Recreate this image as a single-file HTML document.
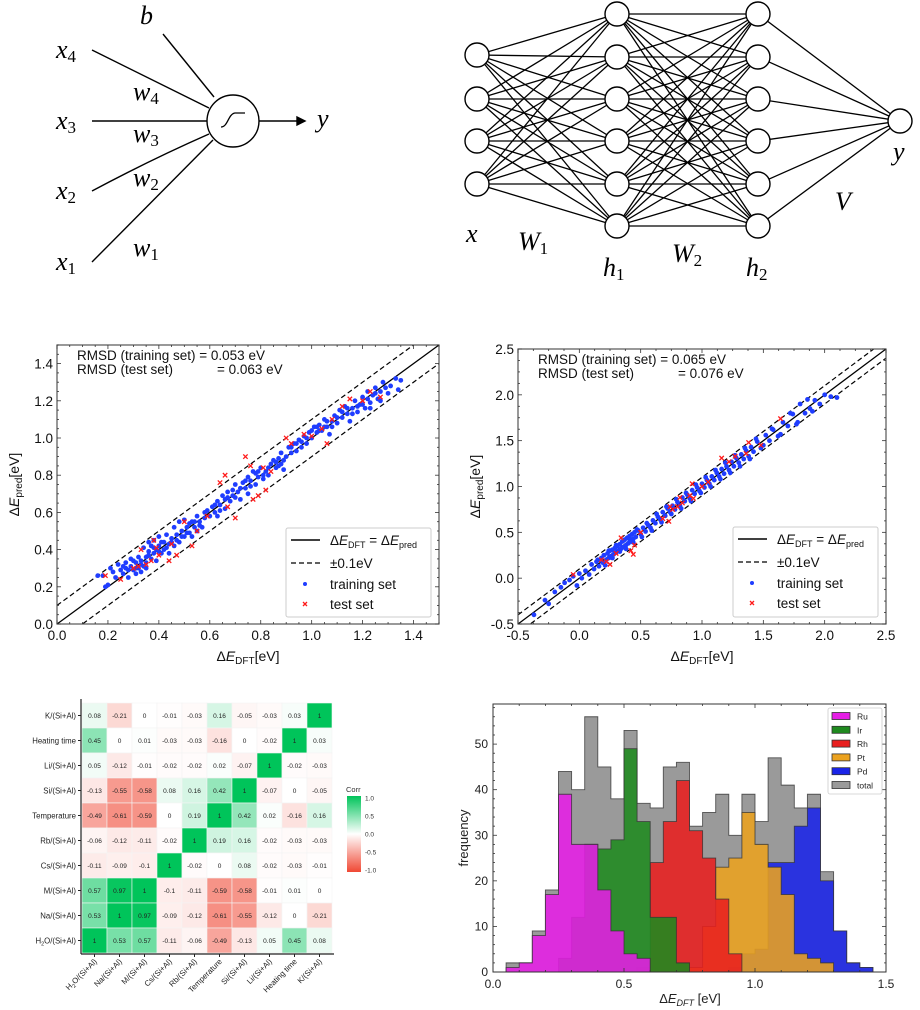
<!DOCTYPE html>
<html><head><meta charset="utf-8"><style>
html,body{margin:0;padding:0;background:#fff;width:920px;height:1010px;overflow:hidden}
svg{display:block}
text{font-family:"Liberation Sans",sans-serif}
.serif text{font-family:"Liberation Serif",serif;font-style:italic}
</style></head><body>
<svg id="fig" width="920" height="1010" viewBox="0 0 920 1010" xmlns="http://www.w3.org/2000/svg">
  <g stroke="#000" stroke-width="1.4" fill="none">
    <line x1="163" y1="34" x2="214" y2="97"/>
    <line x1="92" y1="50" x2="209" y2="108"/>
    <line x1="92" y1="121" x2="207" y2="121"/>
    <path d="M92 191 Q150 160 209 134"/>
    <line x1="92" y1="262" x2="213" y2="140"/>
    <circle cx="233" cy="121" r="26" fill="#fff"/>
    <path d="M221 127 C228 127 228 114 235 113 L245 113" stroke-width="1.3"/>
    <line x1="259" y1="121" x2="298" y2="121"/>
    <path d="M297 117 L305 121 L297 125 Z" fill="#000"/>
  </g>
  <g class="serif" font-size="26" fill="#000">
    <text x="140" y="24" font-size="26">b</text>
    <text x="56" y="58">x<tspan font-size="17" dy="4" font-style="normal">4</tspan></text>
    <text x="56" y="129">x<tspan font-size="17" dy="4" font-style="normal">3</tspan></text>
    <text x="56" y="199">x<tspan font-size="17" dy="4" font-style="normal">2</tspan></text>
    <text x="56" y="270">x<tspan font-size="17" dy="4" font-style="normal">1</tspan></text>
    <text x="133" y="100">w<tspan font-size="17" dy="4" font-style="normal">4</tspan></text>
    <text x="133" y="142">w<tspan font-size="17" dy="4" font-style="normal">3</tspan></text>
    <text x="133" y="186">w<tspan font-size="17" dy="4" font-style="normal">2</tspan></text>
    <text x="133" y="256">w<tspan font-size="17" dy="4" font-style="normal">1</tspan></text>
    <text x="317" y="127">y</text>
  </g>
  <g id="net"></g>
  <g class="serif" font-size="26" fill="#000">
    <text x="466" y="242">x</text>
    <text x="518" y="250">W<tspan font-size="17" dy="4" font-style="normal">1</tspan></text>
    <text x="603" y="276">h<tspan font-size="17" dy="4" font-style="normal">1</tspan></text>
    <text x="672" y="262">W<tspan font-size="17" dy="4" font-style="normal">2</tspan></text>
    <text x="746" y="276">h<tspan font-size="17" dy="4" font-style="normal">2</tspan></text>
    <text x="835" y="210">V</text>
    <text x="893" y="160">y</text>
  </g>
  <g id="sc1"></g>
  <g id="sc2"></g>
  <g id="heat"></g>
  <g id="hist"></g>
</svg>
<script>
// ---------- Scatter data ----------
const sc1Train = [[0.16,0.26],[0.18,0.26],[0.19,0.20],[0.2,0.21],[0.21,0.30],[0.22,0.28],[0.23,0.25],[0.24,0.32],[0.25,0.29],[0.26,0.27],[0.27,0.33],[0.27,0.30],[0.28,0.25],[0.29,0.31],[0.29,0.35],[0.30,0.29],[0.31,0.27],[0.31,0.33],[0.32,0.30],[0.32,0.36],[0.33,0.28],[0.33,0.34],[0.34,0.31],[0.34,0.41],[0.35,0.36],[0.35,0.30],[0.36,0.44],[0.36,0.39],[0.37,0.35],[0.37,0.42],[0.38,0.38],[0.38,0.45],[0.39,0.40],[0.39,0.34],[0.40,0.47],[0.40,0.42],[0.41,0.38],[0.42,0.44],[0.42,0.40],[0.43,0.48],[0.44,0.43],[0.44,0.38],[0.45,0.46],[0.46,0.52],[0.46,0.42],[0.47,0.48],[0.48,0.44],[0.48,0.55],[0.49,0.50],[0.50,0.47],[0.50,0.56],[0.51,0.52],[0.52,0.49],[0.53,0.55],[0.53,0.47],[0.54,0.52],[0.55,0.58],[0.55,0.50],[0.56,0.55],[0.57,0.52],[0.58,0.57],[0.59,0.61],[0.60,0.58],[0.61,0.63],[0.62,0.60],[0.63,0.66],[0.63,0.58],[0.64,0.64],[0.65,0.69],[0.66,0.62],[0.66,0.67],[0.67,0.71],[0.68,0.66],[0.69,0.72],[0.70,0.68],[0.70,0.75],[0.71,0.71],[0.72,0.67],[0.73,0.76],[0.74,0.73],[0.75,0.79],[0.75,0.70],[0.76,0.77],[0.77,0.82],[0.78,0.75],[0.78,0.81],[0.79,0.79],[0.80,0.84],[0.81,0.78],[0.82,0.82],[0.83,0.80],[0.84,0.86],[0.85,0.88],[0.86,0.84],[0.87,0.89],[0.88,0.86],[0.88,0.92],[0.89,0.83],[0.90,0.90],[0.91,0.95],[0.92,0.92],[0.93,0.97],[0.94,0.93],[0.95,0.99],[0.96,0.95],[0.97,1.01],[0.98,0.97],[0.99,1.03],[1.00,1.00],[1.01,1.06],[1.02,1.03],[1.03,1.07],[1.04,1.04],[1.05,1.10],[1.06,1.06],[1.07,1.02],[1.08,1.09],[1.09,1.12],[1.10,1.08],[1.11,1.15],[1.12,1.11],[1.13,1.17],[1.14,1.13],[1.15,1.09],[1.16,1.16],[1.17,1.20],[1.18,1.14],[1.19,1.18],[1.20,1.22],[1.21,1.16],[1.22,1.25],[1.23,1.19],[1.24,1.23],[1.25,1.27],[1.26,1.21],[1.27,1.25],[1.28,1.30],[1.30,1.24],[1.31,1.28],[1.33,1.32],[1.34,1.26],[1.35,1.31],
 [0.26,0.31],[0.28,0.29],[0.30,0.34],[0.31,0.30],[0.33,0.32],[0.35,0.33],[0.36,0.37],[0.38,0.41],[0.40,0.39],[0.41,0.44],[0.43,0.41],[0.45,0.44],[0.47,0.45],[0.49,0.47],[0.51,0.49],[0.52,0.54],[0.54,0.55],[0.56,0.53],[0.58,0.60],[0.62,0.64],[0.64,0.61],[0.67,0.68],[0.69,0.69],[0.72,0.73],[0.74,0.77],[0.76,0.74],[0.79,0.82],[0.81,0.80],[0.83,0.84],[0.86,0.87],[0.87,0.85],[0.89,0.88],[0.92,0.95],[0.94,0.97],[0.96,0.98],[0.98,1.00],[1.00,1.04],[1.02,1.06],[1.03,1.04],[1.05,1.06],[1.06,1.09],[1.08,1.06],[1.10,1.11],[1.12,1.14],[1.14,1.16],[1.16,1.13],[1.18,1.17],[1.20,1.18],[1.22,1.21],[1.23,1.16],[1.25,1.24],[1.27,1.20],[1.29,1.27]];
const sc1Test = [[0.19,0.26],[0.25,0.24],[0.3,0.3],[0.32,0.31],[0.33,0.40],[0.35,0.32],[0.37,0.34],[0.38,0.45],[0.39,0.41],[0.4,0.37],[0.44,0.34],[0.45,0.43],[0.47,0.37],[0.5,0.55],[0.53,0.42],[0.55,0.5],[0.59,0.58],[0.64,0.76],[0.66,0.8],[0.67,0.63],[0.7,0.57],[0.74,0.9],[0.76,0.85],[0.77,0.67],[0.79,0.69],[0.81,0.84],[0.82,0.72],[0.84,0.82],[0.9,1.0],[0.92,0.97],[0.97,1.02],[1.0,1.01],[1.04,1.05],[1.06,0.97],[1.08,1.1],[1.12,1.17],[1.15,1.21],[1.2,1.2],[1.23,1.25],[1.27,1.22]];
const sc2Train = [[-0.37,-0.40],[-0.28,-0.24],[-0.25,-0.28],[-0.2,-0.15],[-0.15,-0.10],[-0.12,-0.05],[-0.08,-0.02],[-0.05,0.02],[-0.02,-0.08],[0.0,0.05],[0.02,0.0],[0.05,0.08],[0.08,0.04],[0.1,0.15],[0.12,0.10],[0.14,0.18],[0.16,0.13],[0.18,0.22],[0.19,0.17],[0.2,0.25],[0.22,0.20],[0.23,0.27],[0.24,0.22],[0.25,0.30],[0.26,0.24],[0.27,0.31],[0.28,0.26],[0.29,0.33],[0.30,0.28],[0.31,0.35],[0.32,0.30],[0.33,0.37],[0.34,0.32],[0.35,0.40],[0.36,0.34],[0.37,0.42],[0.38,0.36],[0.39,0.44],[0.40,0.38],[0.41,0.46],[0.42,0.40],[0.43,0.48],[0.44,0.43],[0.45,0.50],[0.46,0.45],[0.48,0.52],[0.50,0.48],[0.52,0.55],[0.54,0.51],[0.56,0.58],[0.58,0.55],[0.60,0.63],[0.62,0.60],[0.64,0.67],[0.66,0.64],[0.68,0.72],[0.70,0.68],[0.72,0.76],[0.74,0.72],[0.76,0.79],[0.78,0.75],[0.80,0.83],[0.82,0.79],[0.84,0.88],[0.86,0.84],[0.88,0.91],[0.90,0.87],[0.92,0.96],[0.94,0.92],[0.96,0.99],[0.98,0.95],[1.00,1.03],[1.02,0.99],[1.04,1.07],[1.06,1.03],[1.08,1.11],[1.10,1.07],[1.12,1.15],[1.14,1.11],[1.16,1.19],[1.18,1.14],[1.20,1.22],[1.22,1.18],[1.24,1.27],[1.26,1.22],[1.28,1.31],[1.30,1.26],[1.32,1.35],[1.34,1.30],[1.36,1.39],[1.38,1.33],[1.40,1.43],[1.42,1.38],[1.45,1.49],[1.48,1.42],[1.52,1.56],[1.55,1.50],[1.58,1.62],[1.62,1.55],[1.66,1.70],[1.70,1.66],[1.74,1.79],[1.78,1.70],[1.80,1.90],[1.84,1.80],[1.88,1.85],[1.92,1.94],[1.96,1.90],[2.0,2.0],[2.05,1.98],[2.1,1.97],
 [0.15,0.20],[0.21,0.14],[0.24,0.30],[0.27,0.22],[0.30,0.36],[0.33,0.29],[0.36,0.41],[0.38,0.32],[0.41,0.42],[0.44,0.39],[0.47,0.53],[0.51,0.45],[0.55,0.60],[0.59,0.52],[0.63,0.70],[0.67,0.61],[0.71,0.78],[0.75,0.70],[0.79,0.86],[0.83,0.76],[0.87,0.93],[0.91,0.84],[0.95,1.02],[0.99,0.93],[1.03,1.10],[1.07,1.00],[1.11,1.18],[1.15,1.08],[1.19,1.26],[1.23,1.15],[1.27,1.34],[1.31,1.22],[1.35,1.42],[1.39,1.30],[1.44,1.52],[1.50,1.45],[1.57,1.63],[1.64,1.57],[1.72,1.80],[1.77,1.68],[1.86,1.95],[1.90,1.82]];
const sc2Test = [[-0.05,0.04],[0.18,0.2],[0.22,0.18],[0.25,0.15],[0.3,0.27],[0.34,0.44],[0.42,0.3],[0.44,0.26],[0.45,0.36],[0.5,0.5],[0.68,0.65],[0.73,0.62],[0.74,0.78],[0.76,0.75],[0.8,0.78],[0.82,0.88],[0.84,0.82],[0.9,0.9],[0.92,1.03],[0.93,0.87],[1.0,1.0],[1.05,1.05],[1.16,1.31],[1.22,1.27],[1.27,1.33],[1.36,1.36],[1.38,1.48],[1.48,1.45],[1.64,1.74]];
const sc1Ticks = ["0.0","0.2","0.4","0.6","0.8","1.0","1.2","1.4"];
const sc2Ticks = ["-0.5","0.0","0.5","1.0","1.5","2.0","2.5"];
const sc1Rmsd = ["0.053","0.063"];
const sc2Rmsd = ["0.065","0.076"];

// ---------- Heatmap data ----------
const heatRows = ["K/(Si+Al)","Heating time","Li/(Si+Al)","Si/(Si+Al)","Temperature","Rb/(Si+Al)","Cs/(Si+Al)","M/(Si+Al)","Na/(Si+Al)","H2O/(Si+Al)"];
const heatCols = ["H2O/(Si+Al)","Na/(Si+Al)","M/(Si+Al)","Cs/(Si+Al)","Rb/(Si+Al)","Temperature","Si/(Si+Al)","Li/(Si+Al)","Heating time","K/(Si+Al)"];
const heatVals = [
 [0.08,-0.21,0,-0.01,-0.03,0.16,-0.05,-0.03,0.03,1],
 [0.45,0,0.01,-0.03,-0.03,-0.16,0,-0.02,1,0.03],
 [0.05,-0.12,-0.01,-0.02,-0.02,0.02,-0.07,1,-0.02,-0.03],
 [-0.13,-0.55,-0.58,0.08,0.16,0.42,1,-0.07,0,-0.05],
 [-0.49,-0.61,-0.59,0,0.19,1,0.42,0.02,-0.16,0.16],
 [-0.06,-0.12,-0.11,-0.02,1,0.19,0.16,-0.02,-0.03,-0.03],
 [-0.11,-0.09,-0.1,1,-0.02,0,0.08,-0.02,-0.03,-0.01],
 [0.57,0.97,1,-0.1,-0.11,-0.59,-0.58,-0.01,0.01,0],
 [0.53,1,0.97,-0.09,-0.12,-0.61,-0.55,-0.12,0,-0.21],
 [1,0.53,0.57,-0.11,-0.06,-0.49,-0.13,0.05,0.45,0.08]];
const corrTicks = ["1.0","0.5","0.0","-0.5","-1.0"];

// ---------- Histogram data ----------
const binEdges = [0.05,0.10,0.15,0.20,0.25,0.30,0.35,0.40,0.45,0.50,0.55,0.60,0.65,0.70,0.75,0.80,0.85,0.90,0.95,1.00,1.05,1.10,1.15,1.20,1.25,1.30,1.35,1.40,1.45];
const histTotal = [2,2,9,18,44,40,56,45,38,53,37,36,45,46,32,35,39,30,39,33,47,41,36,39,22,9,2,1];
const histRu = [1,2,8,17,39,28,28,18,9,4,3,0,0,0,0,0,0,0,0,0,0,0,0,0,0,0,0,0];
const histIr = [0,0,0,0,3,12,28,27,29,49,33,12,12,2,0,0,0,0,0,0,0,0,0,0,0,0,0,0];
const histRh = [0,0,0,0,0,0,0,0,0,0,1,24,33,42,31,25,16,4,0,0,0,0,0,0,0,0,0,0];
const histPt = [0,0,0,0,0,0,0,0,0,0,0,0,0,0,1,10,23,25,35,28,23,17,4,3,2,0,0,0];
const histPd = [0,0,0,0,0,0,0,0,0,0,0,0,0,0,0,0,0,1,4,5,24,24,32,36,20,9,2,1];
const histXTicks = ["0.0","0.5","1.0","1.5"];
const histYTicks = ["0","10","20","30","40","50"];

const NS = "http://www.w3.org/2000/svg";
function mk(parent, tag, attrs, txt) {
  const e = document.createElementNS(NS, tag);
  for (const k in attrs) e.setAttribute(k, attrs[k]);
  if (txt !== undefined) e.textContent = txt;
  parent.appendChild(e);
  return e;
}

// ---------- Network ----------
(function(){
  const g = document.getElementById('net');
  const inX = 477, h1X = 617, h2X = 758, yX = 900;
  const inY = [55,99,141,184], hY = [14,57,99,141,184,226], outY = 121;
  const lines = mk(g,'g',{stroke:'#000','stroke-width':'1.3'});
  
  
  inY.forEach(a=>hY.forEach(b=>mk(lines,'line',{x1:inX,y1:a,x2:h1X,y2:b})));
  hY.forEach(a=>hY.forEach(b=>mk(lines,'line',{x1:h1X,y1:a,x2:h2X,y2:b})));
  hY.forEach(a=>mk(lines,'line',{x1:h2X,y1:a,x2:yX,y2:outY}));
  const nodes = mk(g,'g',{stroke:'#000','stroke-width':'1.4',fill:'#fff'});
  
  
  inY.forEach(y=>mk(nodes,'circle',{cx:inX,cy:y,r:12}));
  hY.forEach(y=>mk(nodes,'circle',{cx:h1X,cy:y,r:12}));
  hY.forEach(y=>mk(nodes,'circle',{cx:h2X,cy:y,r:12}));
  mk(nodes,'circle',{cx:yX,cy:outY,r:12});
})();

// ---------- Scatter plots ----------
function scatter(id, L, R, T, B, lo, hi, ticks, train, test, rmsd, leg) {
  const g = document.getElementById(id);
  const sx = v => L + (v - lo) / (hi - lo) * (R - L);
  const sy = v => B - (v - lo) / (hi - lo) * (B - T);
  const clip = mk(g,'clipPath',{id:id+'clip'});
  mk(clip,'rect',{x:L,y:T,width:R-L,height:B-T});
  const inner = mk(g,'g',{'clip-path':'url(#'+id+'clip)'});
  const ref = mk(inner,'line',{x1:sx(lo),y1:sy(lo),x2:sx(hi),y2:sy(hi),stroke:'#000','stroke-width':'1.3'});
  
  
  const up = mk(inner,'line',{x1:sx(lo),y1:sy(lo+0.1),x2:sx(hi),y2:sy(hi+0.1),stroke:'#000','stroke-width':'1.2','stroke-dasharray':'5,3'});
  
  
  const dn = mk(inner,'line',{x1:sx(lo),y1:sy(lo-0.1),x2:sx(hi),y2:sy(hi-0.1),stroke:'#000','stroke-width':'1.2','stroke-dasharray':'5,3'});
  
  
  train.forEach(p=>{
    const c = mk(inner,'circle',{cx:sx(p[0]),cy:sy(p[1]),r:2.4,fill:'#1f3dff'});
    
    
  });
  test.forEach(p=>{
    const x=sx(p[0]), y=sy(p[1]);
    const m = mk(inner,'path',{d:`M${x-2.2} ${y-2.2}L${x+2.2} ${y+2.2}M${x-2.2} ${y+2.2}L${x+2.2} ${y-2.2}`,stroke:'#ff1a1a','stroke-width':'1.3'});
    
    
  });
  const fr = mk(g,'rect',{x:L,y:T,width:R-L,height:B-T,fill:'none',stroke:'#555','stroke-width':'1.2'});
  
  
  const tg = mk(g,'g',{stroke:'#333','stroke-width':'0.8'});
  const step = parseFloat(ticks[1]) - parseFloat(ticks[0]);
  const minor = step/4;
  for (let v = lo; v <= hi + 1e-9; v += minor) {
    const isMaj = Math.abs(Math.round((v-lo)/step)*step - (v-lo)) < 1e-6;
    const len = isMaj ? 4 : 2;
    const x = sx(v), y = sy(v);
    mk(tg,'line',{x1:x,y1:B,x2:x,y2:B-len}); mk(tg,'line',{x1:x,y1:T,x2:x,y2:T+len});
    mk(tg,'line',{x1:L,y1:y,x2:L+len,y2:y}); mk(tg,'line',{x1:R,y1:y,x2:R-len,y2:y});
  }
  ticks.forEach(t=>{
    const v = parseFloat(t);
    const xl = mk(g,'text',{x:sx(v),y:B+16,'font-size':'13.5','text-anchor':'middle',fill:'#111'},t);
    
    
    const yl = mk(g,'text',{x:L-4,y:sy(v)+5,'font-size':'13.5','text-anchor':'end',fill:'#111'},t);
    
    
  });
  const xt = mk(g,'text',{x:(L+R)/2,y:B+37,'font-size':'14','text-anchor':'middle',fill:'#111'});
  
  
  xt.innerHTML = 'Δ<tspan font-style="italic">E</tspan><tspan font-size="10" dy="3">DFT</tspan><tspan dy="-3">[eV]</tspan>';
  const yt = mk(g,'text',{x:0,y:0,'font-size':'14','text-anchor':'middle',fill:'#111',transform:`translate(${L-38},${(T+B)/2}) rotate(-90)`});
  
  
  yt.innerHTML = 'Δ<tspan font-style="italic">E</tspan><tspan font-size="10" dy="3">pred</tspan><tspan dy="-3">[eV]</tspan>';
  const r1 = mk(g,'text',{x:L+20,y:T+15,'font-size':'13.5',fill:'#111'},'RMSD (training set) = '+rmsd[0]+' eV');
  
  
  const r2 = mk(g,'text',{x:L+20,y:T+29,'font-size':'13.5',fill:'#111'},'RMSD (test set)');
  
  
  mk(g,'text',{x:L+160,y:T+29,'font-size':'13.5',fill:'#111'},'= '+rmsd[1]+' eV');
  const lg = mk(g,'g',{});
  
  
  const [lx, ly, lw, lh] = leg;
  mk(lg,'rect',{x:lx,y:ly,width:lw,height:lh,fill:'#fff',stroke:'#ccc','stroke-width':'1',rx:'2'});
  mk(lg,'line',{x1:lx+5,y1:ly+12,x2:lx+34,y2:ly+12,stroke:'#000','stroke-width':'1.4'});
  const e1 = mk(lg,'text',{x:lx+44,y:ly+17,'font-size':'13.5',fill:'#111'});
  e1.innerHTML = 'Δ<tspan font-style="italic">E</tspan><tspan font-size="9" dy="3">DFT</tspan><tspan dy="-3"> = Δ</tspan><tspan font-style="italic">E</tspan><tspan font-size="9" dy="3">pred</tspan>';
  
  
  mk(lg,'line',{x1:lx+5,y1:ly+35,x2:lx+34,y2:ly+35,stroke:'#000','stroke-width':'1.3','stroke-dasharray':'5,3'});
  const e2 = mk(lg,'text',{x:lx+44,y:ly+40,'font-size':'13.5',fill:'#111'},'±0.1eV');
  
  
  mk(lg,'circle',{cx:lx+19,cy:ly+56,r:2,fill:'#1f3dff'});
  const e3 = mk(lg,'text',{x:lx+44,y:ly+61,'font-size':'13.5',fill:'#111'},'training set');
  
  
  mk(lg,'path',{d:`M${lx+17} ${ly+74}L${lx+21} ${ly+78}M${lx+17} ${ly+78}L${lx+21} ${ly+74}`,stroke:'#ff1a1a','stroke-width':'1.3'});
  const e4 = mk(lg,'text',{x:lx+44,y:ly+81,'font-size':'13.5',fill:'#111'},'test set');
  
  
}
scatter('sc1', 57, 439, 345, 624, 0, 1.5, sc1Ticks, sc1Train, sc1Test, sc1Rmsd, [286,528,145,89]);
scatter('sc2', 518, 886, 349, 624, -0.5, 2.5, sc2Ticks, sc2Train, sc2Test, sc2Rmsd, [733,527,145,90]);

// ---------- Heatmap ----------
(function(){
  const g = document.getElementById('heat');
  const L = 82, T = 703, cs = 25;
  const col = v => {
    const a = Math.abs(v);
    const end = v >= 0 ? [0,196,90] : [240,72,52];
    const c = end.map(e => Math.round(255 + (e - 255) * a));
    return `rgb(${c[0]},${c[1]},${c[2]})`;
  };
  heatVals.forEach((row, i) => row.forEach((v, j) => {
    const r = mk(g,'rect',{x:L+j*cs,y:T+i*cs,width:cs,height:cs,fill:col(v),stroke:'#f4f4f4','stroke-width':'0.6'});
    
    
    const t = mk(g,'text',{x:L+j*cs+cs/2,y:T+i*cs+cs/2+2.5,'font-size':'6.5','text-anchor':'middle',fill:'#222'},String(v));
    
    
  }));
  const n = heatVals.length;
  mk(g,'line',{x1:L-1,y1:T-4,x2:L-1,y2:T+n*cs+1,stroke:'#222','stroke-width':'1.2'});
  mk(g,'line',{x1:L-1,y1:T+n*cs+1,x2:L+n*cs+2,y2:T+n*cs+1,stroke:'#222','stroke-width':'1.2'});
  const fmt = s => s.startsWith('H2O') ? 'H<tspan font-size="5.5" dy="2">2</tspan><tspan dy="-2">O' + s.slice(3) + '</tspan>' : s;
  heatRows.forEach((s, i) => {
    const y = T + i*cs + cs/2;
    mk(g,'line',{x1:L-4,y1:y,x2:L-1,y2:y,stroke:'#222','stroke-width':'1'});
    const t = mk(g,'text',{x:L-6,y:y+3,'font-size':'7.8','text-anchor':'end',fill:'#222'});
    t.innerHTML = fmt(s);
    
    
  });
  heatCols.forEach((s, j) => {
    const x = L + j*cs + cs/2, y = T + n*cs + 1;
    mk(g,'line',{x1:x,y1:y,x2:x,y2:y+3,stroke:'#222','stroke-width':'1'});
    const t = mk(g,'text',{x:0,y:0,'font-size':'7.8','text-anchor':'end',fill:'#222',transform:`translate(${x+3},${y+8}) rotate(-45)`});
    t.innerHTML = fmt(s);
    
    
  });
  const defs = mk(g,'defs',{});
  const lgd = mk(defs,'linearGradient',{id:'cbar',x1:'0',y1:'0',x2:'0',y2:'1'});
  mk(lgd,'stop',{offset:'0','stop-color':col(1)});
  mk(lgd,'stop',{offset:'0.5','stop-color':'#fff'});
  mk(lgd,'stop',{offset:'1','stop-color':col(-1)});
  const cb = mk(g,'rect',{x:347,y:796,width:14,height:76,fill:'url(#cbar)'});
  
  
  const ct = mk(g,'text',{x:346,y:792,'font-size':'7.5',fill:'#333'},'Corr');
  
  
  corrTicks.forEach(s => {
    const v = parseFloat(s);
    const y = 798 + (1 - v) / 2 * 72;
    const t = mk(g,'text',{x:365,y:y+2.5,'font-size':'6.5',fill:'#333'},s);
    
    
  });
})();

// ---------- Histogram ----------
(function(){
  const g = document.getElementById('hist');
  const L = 493, R = 886, T = 704, B = 972, xmax = 1.5, ymax = 58.8;
  const sx = v => L + v / xmax * (R - L);
  const sy = v => B - v / ymax * (B - T);
  const series = [
    ['total', histTotal, '#9a9a9a'],
    ['Pd', histPd, '#1a24e8'],
    ['Pt', histPt, '#eba21f'],
    ['Rh', histRh, '#e81f1f'],
    ['Ir', histIr, '#1f8a1f'],
    ['Ru', histRu, '#e61ee6']];
  series.forEach(([name, vals, color]) => {
    let d = `M${sx(binEdges[0])} ${sy(0)}`;
    vals.forEach((v, i) => {
      d += `L${sx(binEdges[i])} ${sy(v)}L${sx(binEdges[i+1])} ${sy(v)}`;
    });
    d += `L${sx(binEdges[binEdges.length-1])} ${sy(0)}Z`;
    const p = mk(g,'path',{d:d,fill:color,'fill-opacity':name==='total'?'1':'0.88',stroke:'#333','stroke-width':'0.9','stroke-opacity':'0.8'});
    
    
  });
  const fr = mk(g,'rect',{x:L,y:T,width:R-L,height:B-T,fill:'none',stroke:'#333','stroke-width':'1'});
  
  
  const tg = mk(g,'g',{stroke:'#333','stroke-width':'0.8'});
  for (let v = 0; v <= xmax + 1e-9; v += 0.1) {
    const len = Math.abs(v*2 - Math.round(v*2)) < 1e-6 ? 4 : 2;
    mk(tg,'line',{x1:sx(v),y1:B,x2:sx(v),y2:B-len}); mk(tg,'line',{x1:sx(v),y1:T,x2:sx(v),y2:T+len});
  }
  for (let v = 0; v <= ymax; v += 2) {
    const len = v % 10 === 0 ? 4 : 2;
    mk(tg,'line',{x1:L,y1:sy(v),x2:L+len,y2:sy(v)}); mk(tg,'line',{x1:R,y1:sy(v),x2:R-len,y2:sy(v)});
  }
  histXTicks.forEach(s => {
    const t = mk(g,'text',{x:sx(parseFloat(s)),y:B+16,'font-size':'12','text-anchor':'middle',fill:'#222'},s);
    
    
  });
  histYTicks.forEach(s => {
    const t = mk(g,'text',{x:L-5,y:sy(parseFloat(s))+4,'font-size':'12','text-anchor':'end',fill:'#222'},s);
    
    
  });
  const xt = mk(g,'text',{x:690,y:1003,'font-size':'13','text-anchor':'middle',fill:'#222'});
  xt.innerHTML = 'Δ<tspan font-style="italic">E</tspan><tspan font-size="9" dy="3" font-style="italic">DFT</tspan><tspan dy="-3"> [eV]</tspan>';
  
  
  const yt = mk(g,'text',{x:0,y:0,'font-size':'13','text-anchor':'middle',fill:'#222',transform:`translate(468,${(T+B)/2}) rotate(-90)`},'frequency');
  
  
  const lg = mk(g,'g',{});
  
  
  mk(lg,'rect',{x:828,y:708,width:54,height:86,fill:'#fff',stroke:'#ccc','stroke-width':'0.8',rx:'2'});
  const legItems = [['Ru','#e61ee6'],['Ir','#1f8a1f'],['Rh','#e81f1f'],['Pt','#eba21f'],['Pd','#1a24e8'],['total','#9a9a9a']];
  legItems.forEach(([n, c], i) => {
    const y = 716 + i*13.8;
    mk(lg,'rect',{x:832,y:y-3.5,width:18,height:7,fill:c,stroke:'#333','stroke-width':'0.8'});
    const t = mk(lg,'text',{x:857,y:y+3.5,'font-size':'8.5',fill:'#222'},n);
    
    
  });
})();
</script>
</body></html>
